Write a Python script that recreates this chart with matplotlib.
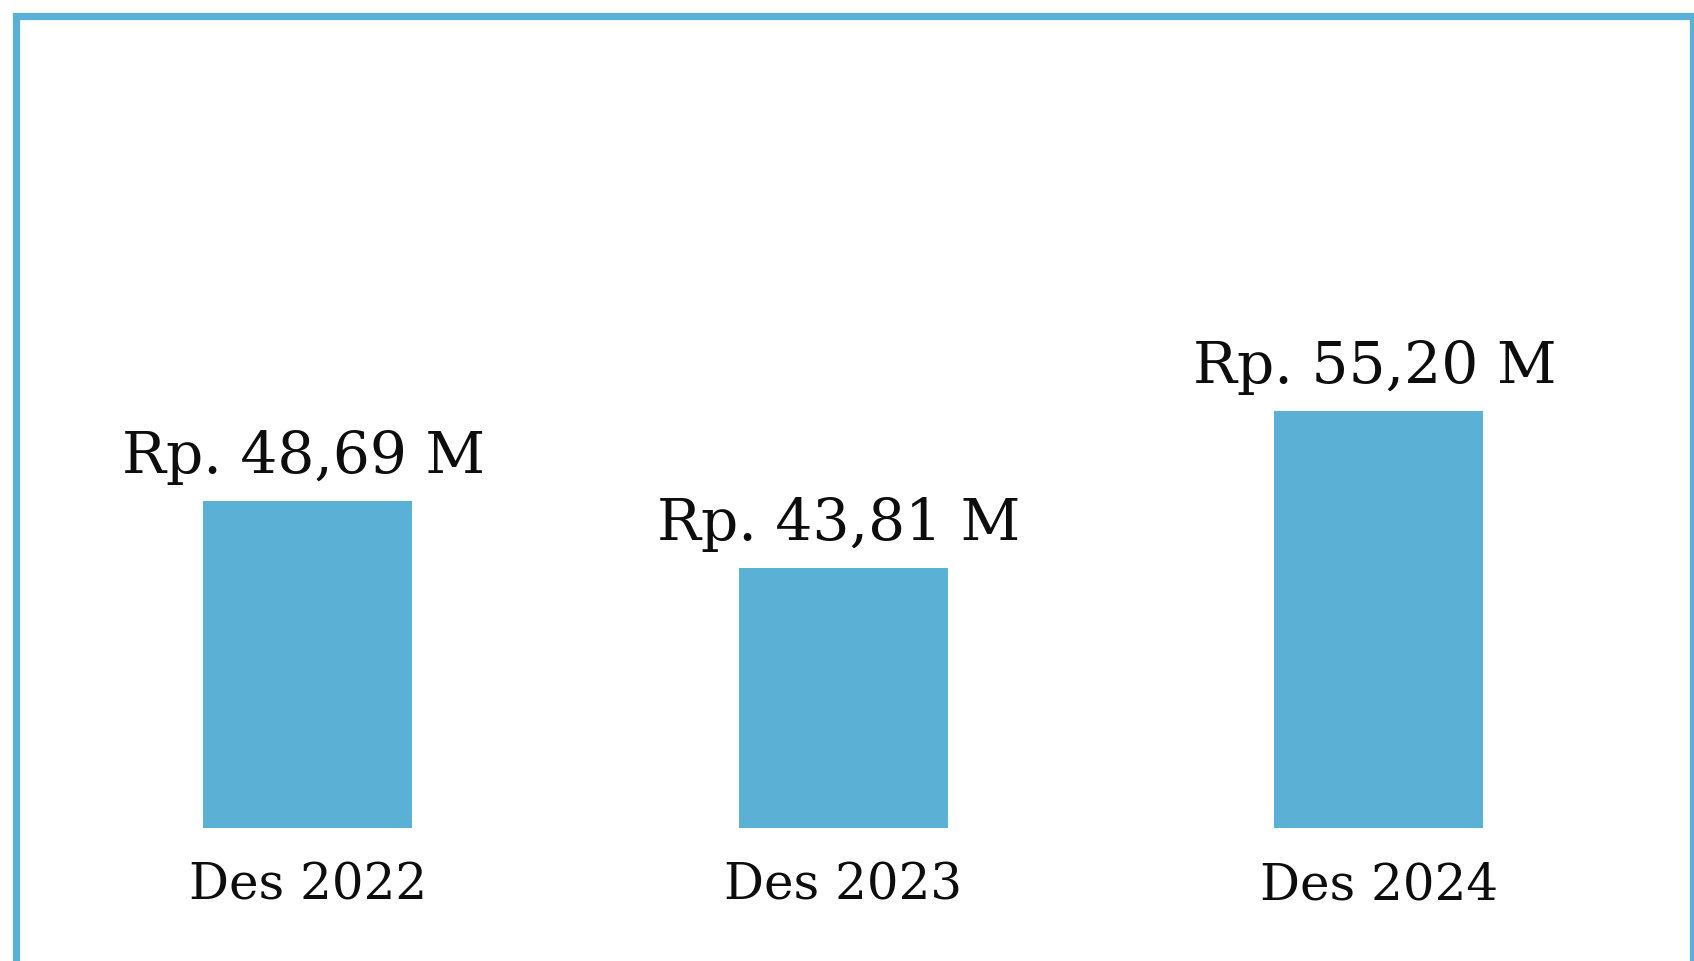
import matplotlib.pyplot as plt
from matplotlib.patches import Rectangle

# data
periods = ["Des 2022", "Des 2023", "Des 2024"]
values = [48.69, 43.81, 55.20]
value_labels = ["Rp. 48,69 M", "Rp. 43,81 M", "Rp. 55,20 M"]

BLUE = "#5bb0d5"
FONT = ["DejaVu Serif"]


def main():
    fig = plt.figure(figsize=(16.94, 9.61), dpi=100)

    # outer frame (bottom edge runs off the image)
    fig.patches.append(Rectangle((0.00915, -0.0031), 0.99026, 0.98697,
                                 transform=fig.transFigure, fill=False,
                                 edgecolor=BLUE, linewidth=5.2))

    ax = fig.add_axes([0.0, 0.1384, 1.0, 0.8418])
    x = list(range(len(periods)))
    bars = ax.bar(x, values, width=0.39, color=BLUE, edgecolor="none")

    ax.set_xlim(-0.5748, 2.5886)
    ax.set_ylim(24.93, 83.64)
    ax.axis("off")

    for bar, lab in zip(bars, value_labels):
        ax.annotate(lab, (bar.get_x() + bar.get_width() / 2, bar.get_height()),
                    xytext=(-3, 20), textcoords="offset points",
                    ha="center", va="baseline", fontsize=42,
                    family=FONT, color="#0d0d0d")

    for xi, name in zip(x, periods):
        ax.text(xi, -0.089, name, transform=ax.get_xaxis_transform(),
                ha="center", va="baseline", fontsize=36,
                family=FONT, color="#0d0d0d")

    fig.savefig("out.png", dpi=100)


if __name__ == "__main__":
    main()
